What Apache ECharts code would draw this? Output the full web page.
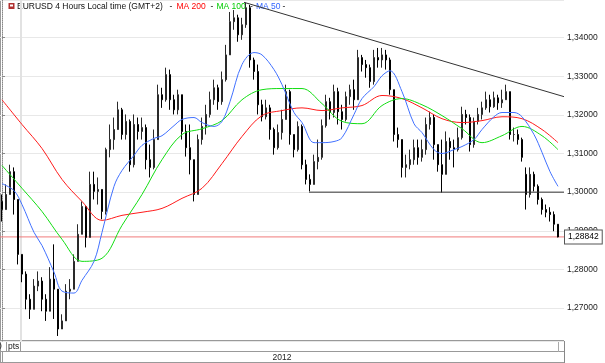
<!DOCTYPE html>
<html><head><meta charset="utf-8">
<script src="https://cdn.jsdelivr.net/npm/echarts@6/dist/echarts.min.js"></script>
<style>html,body{margin:0;padding:0;background:#fff}#c{width:605px;height:363px}</style>
</head><body><div id="c"></div>
<script>
// EURUSD 4h bars (aggregated), prices
const opens=[1.2976,1.2955,1.2994,1.3053,1.2981,1.2839,1.2788,1.2723,1.2697,1.2757,1.2770,1.2723,1.2692,1.2775,1.2749,1.2646,1.2667,1.2744,1.2749,1.2821,1.2891,1.2963,1.2883,1.3020,1.3002,1.3007,1.2950,1.3110,1.3136,1.3162,1.3213,1.3149,1.3183,1.3071,1.3175,1.3157,1.3167,1.3084,1.3064,1.3136,1.3252,1.3239,1.3304,1.3239,1.3213,1.3252,1.3157,1.3115,1.3084,1.2994,1.3136,1.3170,1.3201,1.3239,1.3270,1.3234,1.3291,1.3355,1.3441,1.3451,1.3407,1.3433,1.3477,1.3342,1.3312,1.3226,1.3195,1.3218,1.3162,1.3115,1.3154,1.3188,1.3260,1.3149,1.3110,1.3170,1.3071,1.3033,1.3020,1.3079,1.3090,1.3172,1.3234,1.3206,1.3260,1.3208,1.3188,1.3247,1.3265,1.3239,1.3348,1.3330,1.3322,1.3286,1.3348,1.3342,1.3355,1.3342,1.3265,1.3149,1.3136,1.3064,1.3071,1.3084,1.3115,1.3090,1.3110,1.3175,1.3193,1.3123,1.3071,1.3046,1.3131,1.3115,1.3110,1.3141,1.3201,1.3193,1.3123,1.3183,1.3201,1.3218,1.3239,1.3221,1.3244,1.3231,1.3239,1.3260,1.3149,1.3149,1.3136,1.3046,1.2994,1.3046,1.3015,1.2981,1.2955,1.2948,1.2942,1.2917];
const closes=[1.2955,1.2994,1.3053,1.2981,1.2839,1.2788,1.2723,1.2697,1.2757,1.2770,1.2723,1.2692,1.2775,1.2749,1.2646,1.2667,1.2744,1.2749,1.2821,1.2891,1.2963,1.2883,1.3020,1.3002,1.3007,1.2950,1.3110,1.3136,1.3162,1.3213,1.3149,1.3183,1.3071,1.3175,1.3157,1.3167,1.3084,1.3064,1.3136,1.3252,1.3239,1.3304,1.3239,1.3213,1.3252,1.3157,1.3115,1.3084,1.2994,1.3136,1.3170,1.3201,1.3239,1.3270,1.3234,1.3291,1.3355,1.3441,1.3451,1.3407,1.3433,1.3477,1.3342,1.3312,1.3226,1.3195,1.3218,1.3162,1.3115,1.3154,1.3188,1.3260,1.3149,1.3110,1.3170,1.3071,1.3033,1.3020,1.3079,1.3090,1.3172,1.3234,1.3206,1.3260,1.3208,1.3188,1.3247,1.3265,1.3239,1.3348,1.3330,1.3322,1.3286,1.3348,1.3342,1.3355,1.3342,1.3265,1.3149,1.3136,1.3064,1.3071,1.3084,1.3115,1.3090,1.3110,1.3175,1.3193,1.3123,1.3071,1.3046,1.3131,1.3115,1.3110,1.3141,1.3201,1.3193,1.3123,1.3183,1.3201,1.3218,1.3239,1.3221,1.3244,1.3231,1.3239,1.3260,1.3149,1.3149,1.3136,1.3090,1.2994,1.3046,1.3015,1.2981,1.2955,1.2948,1.2942,1.2917,1.28842];
const lows=[1.2924,1.2955,1.2994,1.2942,1.2813,1.2767,1.2697,1.2672,1.2697,1.2744,1.2692,1.2667,1.2692,1.2672,1.2628,1.2646,1.2667,1.2723,1.2749,1.2821,1.2891,1.2857,1.2883,1.2981,1.2968,1.2930,1.2942,1.3090,1.3110,1.3162,1.3136,1.3136,1.3053,1.3064,1.3136,1.3136,1.3059,1.3038,1.3059,1.3136,1.3218,1.3234,1.3213,1.3201,1.3201,1.3136,1.3092,1.3046,1.2976,1.2994,1.3123,1.3149,1.3193,1.3226,1.3213,1.3226,1.3286,1.3355,1.3420,1.3389,1.3394,1.3425,1.3322,1.3291,1.3201,1.3183,1.3188,1.3136,1.3097,1.3110,1.3136,1.3188,1.3123,1.3090,1.3105,1.3059,1.3020,1.3002,1.3020,1.3059,1.3084,1.3167,1.3188,1.3193,1.3175,1.3162,1.3183,1.3226,1.3213,1.3239,1.3312,1.3296,1.3270,1.3278,1.3322,1.3322,1.3317,1.3252,1.3131,1.3115,1.3038,1.3038,1.3059,1.3071,1.3071,1.3079,1.3097,1.3162,1.3084,1.3053,1.2999,1.3046,1.3084,1.3064,1.3105,1.3136,1.3175,1.3105,1.3115,1.3175,1.3188,1.3213,1.3206,1.3218,1.3213,1.3218,1.3239,1.3136,1.3131,1.3123,1.3079,1.2955,1.2986,1.3002,1.2968,1.2942,1.2935,1.2924,1.2899,1.2883];
const highs=[1.2994,1.3020,1.3071,1.3064,1.2981,1.2839,1.2795,1.2736,1.2775,1.2795,1.2780,1.2736,1.2806,1.2865,1.2749,1.2684,1.2762,1.2775,1.2839,1.2917,1.2976,1.2963,1.3053,1.3053,1.3038,1.3007,1.3115,1.3175,1.3193,1.3234,1.3218,1.3201,1.3188,1.3201,1.3193,1.3193,1.3175,1.3123,1.3162,1.3278,1.3270,1.3322,1.3317,1.3252,1.3265,1.3252,1.3175,1.3175,1.3084,1.3149,1.3193,1.3226,1.3260,1.3291,1.3278,1.3312,1.3381,1.3466,1.3471,1.3459,1.3451,1.3490,1.3484,1.3348,1.3330,1.3239,1.3239,1.3226,1.3167,1.3175,1.3213,1.3278,1.3265,1.3149,1.3183,1.3175,1.3084,1.3046,1.3097,1.3136,1.3188,1.3252,1.3244,1.3278,1.3270,1.3226,1.3260,1.3278,1.3291,1.3368,1.3355,1.3342,1.3330,1.3368,1.3373,1.3373,1.3368,1.3348,1.3265,1.3167,1.3136,1.3097,1.3110,1.3136,1.3136,1.3136,1.3193,1.3208,1.3201,1.3123,1.3136,1.3157,1.3141,1.3136,1.3167,1.3221,1.3213,1.3201,1.3193,1.3218,1.3234,1.3260,1.3252,1.3260,1.3252,1.3265,1.3278,1.3260,1.3167,1.3162,1.3141,1.3064,1.3064,1.3053,1.3020,1.2986,1.2968,1.2961,1.2950,1.2917];

// moving averages (bar index, value)
const ma200Idx=[0,5,10,15,20,25,30,35,40,45,50,55,60,65,70,75,80,85,90,95,100,105,110,115,120,125,130,135,139];
const ma200=[1.3239,1.3175,1.3113,1.3033,1.2976,1.2927,1.2940,1.2948,1.2958,1.2984,1.3010,1.3074,1.3144,1.3198,1.3211,1.3218,1.3211,1.3218,1.3224,1.3250,1.3242,1.3218,1.3190,1.3180,1.3185,1.3195,1.3190,1.3162,1.3128];
const ma100Idx=ma200Idx;
const ma100=[1.3069,1.3010,1.2950,1.2878,1.2821,1.2829,1.2914,1.2994,1.3084,1.3149,1.3164,1.3185,1.3239,1.3265,1.3268,1.3268,1.3229,1.3183,1.3177,1.3224,1.3242,1.3226,1.3198,1.3164,1.3128,1.3146,1.3170,1.3146,1.3110];
const ma50Idx=[0,3,5,8,10,13,15,18,20,23,25,28,30,33,35,38,40,43,45,48,50,53,55,57,60,63,65,68,70,73,75,78,80,83,85,88,90,93,95,97,100,103,105,108,110,113,115,118,120,123,125,128,130,133,135,137,139];
const ma50=[1.3022,1.3004,1.2968,1.2896,1.2862,1.2793,1.2744,1.2739,1.2772,1.2821,1.2896,1.3015,1.3056,1.3095,1.3121,1.3139,1.3146,1.3172,1.3188,1.3193,1.3180,1.3170,1.3183,1.3234,1.3330,1.3361,1.3355,1.3317,1.3278,1.3206,1.3180,1.3128,1.3128,1.3131,1.3141,1.3201,1.3242,1.3273,1.3301,1.3314,1.3260,1.3177,1.3154,1.3110,1.3100,1.3110,1.3118,1.3136,1.3162,1.3195,1.3206,1.3206,1.3195,1.3149,1.3103,1.3053,1.3015];

// drawn trend lines
const trendX=[60.5,140.5], trendY=[1.3491,1.3247];
const supportX=[76.75,140.5], supportY=[1.3000,1.3000];
const lastPrice=1.28842;
const priceLineX=[-0.5,140.5];
const yTicks=[1.27,1.28,1.29,1.30,1.31,1.32,1.33,1.34];

const FONT='"Liberation Sans", Arial, sans-serif';
const zip=(a,b)=>a.map((v,i)=>[v,b[i]]);
const fmt=v=>v.toFixed(5).replace('.',',');
const candles=closes.map((c,i)=>[i,opens[i],c,lows[i],highs[i]]);

const chart=echarts.init(document.getElementById('c'),null,{renderer:'canvas'});
const line=(data,color,extra)=>Object.assign({type:'line',data,symbol:'none',smooth:0.35,lineStyle:{color,width:1},itemStyle:{color},z:3,silent:true},extra||{});
const gline=(x1,y1,x2,y2,stroke)=>({type:'line',shape:{x1,y1,x2,y2},style:{stroke,lineWidth:1},silent:true});
const gtext=(text,x,y,fill,align)=>({type:'text',style:{text,x,y,fill,fontSize:8.5,fontFamily:FONT,align:align||'left',verticalAlign:'middle'},silent:true});

chart.setOption({
  animation:false,
  grid:{left:0,right:41,top:0,bottom:22},
  xAxis:{type:'value',min:-0.5,max:140.5,show:false},
  yAxis:{type:'value',position:'right',min:1.2615,max:1.3497,splitNumber:8,
    axisLine:{show:true,lineStyle:{color:'#888',type:'dotted'}},
    axisTick:{show:true,length:3,lineStyle:{color:'#888'}},
    axisLabel:{color:'#222',fontSize:8.5,fontFamily:FONT,margin:3,showMinLabel:false,showMaxLabel:false,
      formatter:v=>yTicks.some(t=>Math.abs(t-v)<1e-7)?fmt(v):''},
    splitLine:{lineStyle:{color:'#e8e8e8'}}},
  series:[
    {type:'line',data:zip(priceLineX,[lastPrice,lastPrice]),symbol:'none',z:1,silent:true,
      lineStyle:{color:'#f07a7a',width:1},itemStyle:{color:'#f07a7a'},
      endLabel:{show:true,distance:1,formatter:()=>fmt(lastPrice),color:'#000',fontSize:8.5,fontFamily:FONT,
        backgroundColor:'#fff',borderColor:'#555',borderWidth:1,padding:[2,3,2,3]},
      markLine:{silent:true,z:1,symbol:['none','none'],label:{show:false},
        lineStyle:{color:'#e2e2e2',width:2,type:'solid'},data:[{xAxis:4.75}]}},
    {type:'candlestick',data:candles,encode:{x:0,y:[1,2,3,4]},barWidth:2,z:2,silent:true,
      itemStyle:{color:'#2a2a2a',color0:'#000',borderColor:'#2a2a2a',borderColor0:'#000',borderWidth:1}},
    line(zip(ma200Idx,ma200),'#ff1a1a'),
    line(zip(ma100Idx,ma100),'#11dd11'),
    line(zip(ma50Idx,ma50),'#4070ff'),
    {type:'line',data:zip(trendX,trendY),symbol:'none',lineStyle:{color:'#333',width:1},z:4,silent:true},
    {type:'line',data:zip(supportX,supportY),symbol:'none',lineStyle:{color:'#333',width:1},z:4,silent:true}
  ],
  graphic:[
    gline(0,0.5,564,0.5,'#aaa'),
    gline(0.5,0,0.5,363,'#999'),
    gline(0,340.5,564,340.5,'#999'),
    gline(0,351.5,564,351.5,'#999'),
    gline(0,362.5,564,362.5,'#999'),
    gline(564.5,341,564.5,363,'#888'),
    gline(558.5,341,558.5,352,'#aaa'),
    gline(20.5,341,20.5,352,'#999'),
    gline(6.5,341,6.5,352,'#999'),
    gline(2.5,352,2.5,363,'#999'),
    gtext('0',-3,346.5,'#222'),
    gtext('pts',8,346.5,'#222'),
    gtext('2012',282,357.5,'#222','center'),
    {type:'rect',shape:{x:8.5,y:3,width:6,height:6},style:{fill:'#b03030'},silent:true},
    {type:'rect',shape:{x:10,y:4.5,width:3,height:2},style:{fill:'#fff'},silent:true},
    gtext('EURUSD 4 Hours Local time (GMT+2)',17,7,'#111'),
    gtext('-',169.5,7,'#111'),
    gtext('MA 200',176.5,7,'#ff0000'),
    gtext('-',210.5,7,'#111'),
    gtext('MA 100',216.5,7,'#00cc00'),
    gtext('-',250,7,'#111'),
    gtext('MA 50',256,7,'#3366ff'),
    gtext('-',282.5,7,'#111')
  ]
});
</script></body></html>
